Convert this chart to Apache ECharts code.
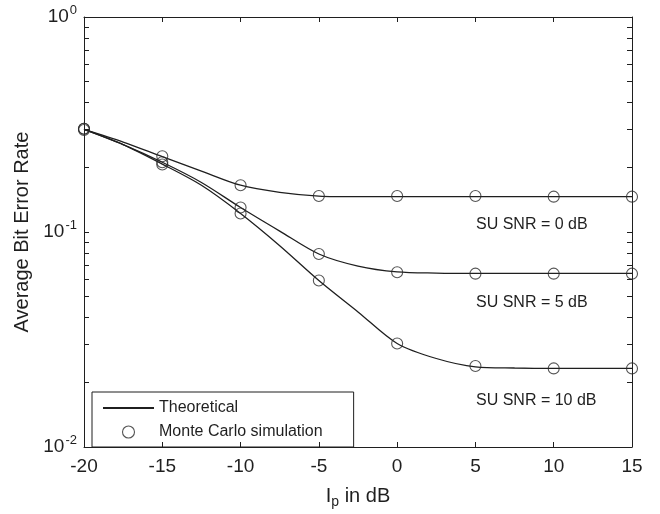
<!DOCTYPE html>
<html>
<head>
<meta charset="utf-8">
<script src="https://cdn.jsdelivr.net/npm/echarts@6/dist/echarts.min.js"></script>
<style>
    html, body { margin: 0; padding: 0; background: #fff; }
    #ber_chart_content { width: 660px; height: 514px; }
</style>
</head>
<body>
<div id="ber_chart_content"></div>
<script>
// 理论曲线 (Ip in dB, 每2.5dB读一个点)
var ip_theory = [-20, -17.5, -15, -12.5, -10, -7.5, -5, -2.5, 0, 2.5, 5, 7.5, 10, 12.5, 15];
var theory_snr0 = [0.300, 0.262, 0.224, 0.192, 0.165, 0.153, 0.147, 0.146, 0.146, 0.146, 0.146, 0.146, 0.146, 0.146, 0.146];
var theory_snr5 = [0.300, 0.255, 0.211, 0.170, 0.130, 0.101, 0.079, 0.0694, 0.0652, 0.0644, 0.0642, 0.0642, 0.0642, 0.0642, 0.0642];
var theory_snr10 = [0.300, 0.255, 0.207, 0.165, 0.122, 0.0864, 0.0595, 0.0425, 0.0303, 0.0258, 0.0236, 0.0233, 0.0232, 0.0232, 0.0232];
// 蒙特卡洛仿真
var ip_sim = [-20, -15, -10, -5, 0, 5, 10, 15];
var sim_snr0 = [0.302, 0.225, 0.165, 0.147, 0.147, 0.147, 0.146, 0.146];
var sim_snr5 = [0.302, 0.211, 0.130, 0.079, 0.065, 0.064, 0.064, 0.064];
var sim_snr10 = [0.298, 0.206, 0.122, 0.0595, 0.0303, 0.0238, 0.0232, 0.0232];
var y_major = [0.01, 0.1, 1];
var y_minor = [0.01, 0.02, 0.03, 0.04, 0.05, 0.06, 0.07, 0.08, 0.09,
    0.1, 0.2, 0.3, 0.4, 0.5, 0.6, 0.7, 0.8, 0.9, 1];
var snr_labels = ["SU SNR = 0 dB", "SU SNR = 5 dB", "SU SNR = 10 dB"];

var FONT = "'Liberation Sans', Arial, sans-serif";
var INK = "#1f1f1f";

function pairs(xs, ys){
    var out = [];
    for(var i = 0; i < xs.length; i++){
        out.push([xs[i], ys[i]]);
    }
    return out;
}

function theory_series(ys){
    return {
        name: "Theoretical",
        type: "line",
        smooth: 0.3,
        symbol: "none",
        data: pairs(ip_theory, ys),
        lineStyle: { color: INK, width: 1.3 },
        itemStyle: { color: INK },
        z: 2
    };
}

function sim_series(ys){
    return {
        name: "Monte Carlo simulation",
        type: "scatter",
        symbol: "circle",
        symbolSize: 11,
        data: pairs(ip_sim, ys),
        itemStyle: { color: "rgba(0,0,0,0)", borderColor: "#2a2a2a", borderWidth: 1.1 },
        z: 3
    };
}

function pow_label(v){
    var e = Math.round(Math.log10(v));
    return "{b|10}{s|" + e + "}";
}

var tick_style = { show: true, inside: true, length: 5, lineStyle: { color: INK, width: 1 } };
var line_style = { show: true, onZero: false, lineStyle: { color: INK, width: 1 } };

var chart = echarts.init(document.getElementById("ber_chart_content"), null, { renderer: "canvas" });
var option = {
    animation: false,
    backgroundColor: "#fff",
    textStyle: { fontFamily: FONT },
    grid: { left: 84, right: 28, top: 17, bottom: 65 },
    legend: {
        orient: "vertical",
        left: 92,
        top: 392,
        padding: [8, 31, 7, 10],
        itemGap: 8,
        itemWidth: 51,
        itemHeight: 12,
        borderColor: INK,
        borderWidth: 1,
        borderRadius: 0,
        textStyle: { fontFamily: FONT, fontSize: 16, color: INK },
        data: [
            { name: "Theoretical", itemStyle: { opacity: 0 } },
            { name: "Monte Carlo simulation", icon: "circle", itemStyle: { color: "rgba(0,0,0,0)", borderColor: "#2a2a2a", borderWidth: 1.1 } }
        ]
    },
    xAxis: [
        {
            type: "value",
            min: -20,
            max: 15,
            interval: 5,
            name: "{a|I}{p|p}{a| in dB}",
            nameLocation: "middle",
            nameGap: 36,
            nameTextStyle: {
                rich: {
                    a: { fontFamily: FONT, fontSize: 20, color: INK },
                    p: { fontFamily: FONT, fontSize: 14, color: INK, padding: [12, 0, 0, 0] }
                }
            },
            axisLine: line_style,
            axisTick: tick_style,
            axisLabel: { fontFamily: FONT, fontSize: 19, color: INK, margin: 10 },
            splitLine: { show: false }
        },
        {
            type: "value",
            position: "top",
            min: -20,
            max: 15,
            interval: 5,
            axisLine: line_style,
            axisTick: tick_style,
            axisLabel: { show: false },
            splitLine: { show: false }
        }
    ],
    yAxis: [
        {
            type: "log",
            logBase: 10,
            min: 0.01,
            max: 1,
            name: "Average Bit Error Rate",
            nameLocation: "middle",
            nameRotate: 90,
            nameGap: 48,
            nameTextStyle: { fontFamily: FONT, fontSize: 20, color: INK },
            axisLine: line_style,
            axisTick: { show: true, inside: true, length: 5, lineStyle: { color: INK, width: 1 }, customValues: y_minor },
            axisLabel: {
                customValues: y_major,
                margin: 7,
                formatter: pow_label,
                rich: {
                    b: { fontFamily: FONT, fontSize: 19, color: INK },
                    s: { fontFamily: FONT, fontSize: 13, color: INK, padding: [0, 0, 14, 1] }
                }
            },
            splitLine: { show: false }
        },
        {
            type: "log",
            logBase: 10,
            min: 0.01,
            max: 1,
            position: "right",
            axisLine: line_style,
            axisTick: { show: true, inside: true, length: 5, lineStyle: { color: INK, width: 1 }, customValues: y_minor },
            axisLabel: { show: false },
            splitLine: { show: false }
        }
    ],
    graphic: [
        { type: "text", left: 476, top: 217, style: { text: snr_labels[0], font: "16px " + FONT, fill: INK } },
        { type: "text", left: 476, top: 295, style: { text: snr_labels[1], font: "16px " + FONT, fill: INK } },
        { type: "text", left: 476, top: 393, style: { text: snr_labels[2], font: "16px " + FONT, fill: INK } }
    ],
    series: [
        theory_series(theory_snr0),
        theory_series(theory_snr5),
        theory_series(theory_snr10),
        sim_series(sim_snr0),
        sim_series(sim_snr5),
        sim_series(sim_snr10)
    ]
};
chart.setOption(option, true);
</script>
</body>
</html>
